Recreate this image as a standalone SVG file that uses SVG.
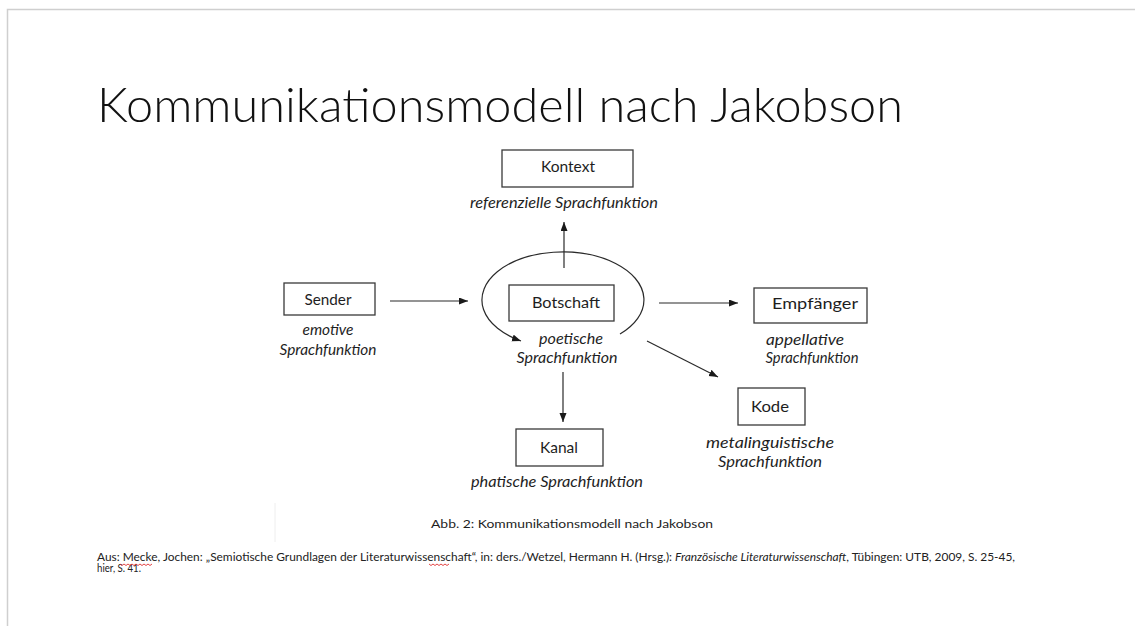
<svg xmlns="http://www.w3.org/2000/svg" width="1135" height="626" viewBox="0 0 1135 626">
<style>
.box{fill:#fff;stroke:#3a3a3a;stroke-width:1.3}
.lbl{font-family:Lato,"Liberation Sans",sans-serif;font-size:15px;fill:#1e1e1e;text-anchor:middle}
.it{font-style:italic}
.con{fill:none;stroke:#2a2a2a;stroke-width:1.2}
.foot{font-family:Lato,"Liberation Sans",sans-serif;font-size:10.5px;fill:#222}
.sq{fill:none;stroke:#e03030;stroke-width:0.9}
</style>
<defs>
<marker id="ah" markerUnits="userSpaceOnUse" markerWidth="10" markerHeight="8" refX="9" refY="3.5" orient="auto">
<path d="M0,0 L9,3.5 L0,7 z" fill="#1a1a1a"/>
</marker>
</defs>
<rect x="0" y="0" width="1135" height="626" fill="#fff"/>
<path d="M7.5,626 L7.5,9.5 L1135,9.5" fill="none" stroke="#cfcfcf" stroke-width="1.5"/>
<text id="title" x="97" y="122" font-family="Lato,'Liberation Sans',sans-serif" font-weight="300" font-size="48" fill="#111" textLength="806" lengthAdjust="spacingAndGlyphs">Kommunikationsmodell nach Jakobson</text>
<line x1="275" y1="503" x2="275" y2="542" stroke="#eeeeee" stroke-width="1"/>
<g id="connectors">
<path class="con" d="M564,268 L564,222" marker-end="url(#ah)"/>
<path class="con" d="M390,301 L468,301" marker-end="url(#ah)"/>
<path class="con" d="M659,303 L738,303" marker-end="url(#ah)"/>
<path class="con" d="M647,341 L718,377" marker-end="url(#ah)"/>
<path class="con" d="M563,372 L563,422" marker-end="url(#ah)"/>
<path class="con" d="M620,334 A81,48 0 1 0 521,341" marker-end="url(#ah)"/>
</g>
<g id="kontext">
<rect class="box" x="502" y="150" width="131" height="37"/>
<text class="lbl" x="568" y="172" textLength="54" lengthAdjust="spacingAndGlyphs">Kontext</text>
<text class="lbl it" x="564" y="208" textLength="188" lengthAdjust="spacingAndGlyphs">referenzielle Sprachfunktion</text>
</g>
<g id="sender">
<rect class="box" x="284" y="283" width="91" height="32"/>
<text class="lbl" x="328" y="305" textLength="47" lengthAdjust="spacingAndGlyphs">Sender</text>
<text class="lbl it" x="328" y="335" textLength="51" lengthAdjust="spacingAndGlyphs">emotive</text>
<text class="lbl it" x="328" y="355" textLength="97" lengthAdjust="spacingAndGlyphs">Sprachfunktion</text>
</g>
<g id="botschaft">
<rect class="box" x="509" y="285" width="105" height="36"/>
<text class="lbl" x="566" y="308" textLength="68" lengthAdjust="spacingAndGlyphs">Botschaft</text>
<text class="lbl it" x="571" y="344" textLength="64" lengthAdjust="spacingAndGlyphs">poetische</text>
<text class="lbl it" x="567" y="363" textLength="101" lengthAdjust="spacingAndGlyphs">Sprachfunktion</text>
</g>
<g id="empfaenger">
<rect class="box" x="754" y="288" width="113" height="35"/>
<text class="lbl" x="815" y="309" textLength="86" lengthAdjust="spacingAndGlyphs">Empfänger</text>
<text class="lbl it" x="805" y="345" textLength="78" lengthAdjust="spacingAndGlyphs">appellative</text>
<text class="lbl it" x="812" y="363" textLength="93" lengthAdjust="spacingAndGlyphs">Sprachfunktion</text>
</g>
<g id="kode">
<rect class="box" x="738" y="388" width="67" height="37"/>
<text class="lbl" x="770" y="412" textLength="38" lengthAdjust="spacingAndGlyphs">Kode</text>
<text class="lbl it" x="770" y="448" textLength="128" lengthAdjust="spacingAndGlyphs">metalinguistische</text>
<text class="lbl it" x="770" y="467" textLength="104" lengthAdjust="spacingAndGlyphs">Sprachfunktion</text>
</g>
<g id="kanal">
<rect class="box" x="516" y="429" width="87" height="37"/>
<text class="lbl" x="559" y="453" textLength="38" lengthAdjust="spacingAndGlyphs">Kanal</text>
<text class="lbl it" x="557" y="487" textLength="172" lengthAdjust="spacingAndGlyphs">phatische Sprachfunktion</text>
</g>
<text id="caption" class="lbl" x="572" y="528" textLength="282" lengthAdjust="spacingAndGlyphs" style="font-size:12px">Abb. 2: Kommunikationsmodell nach Jakobson</text>
<g id="footnote">
<text class="foot" x="97" y="561" textLength="918" lengthAdjust="spacingAndGlyphs">Aus: Mecke, Jochen: „Semiotische Grundlagen der Literaturwissenschaft“, in: ders./Wetzel, Hermann H. (Hrsg.): <tspan font-style="italic">Französische Literaturwissenschaft</tspan>, Tübingen: UTB, 2009, S. 25-45,</text>
<text class="foot" x="97" y="572" textLength="44" lengthAdjust="spacingAndGlyphs">hier, S. 41.</text>
<path class="sq" d="M120,564 l2,1.5 l2,-1.5 l2,1.5 l2,-1.5 l2,1.5 l2,-1.5 l2,1.5 l2,-1.5 l2,1.5 l2,-1.5 l2,1.5 l2,-1.5 l2,1.5 l2,-1.5 l2,1.5 l2,-1.5"/>
<path class="sq" d="M429,564 l2,1.5 l2,-1.5 l2,1.5 l2,-1.5 l2,1.5 l2,-1.5 l2,1.5 l2,-1.5 l2,1.5 l2,-1.5"/>
</g>
</svg>
